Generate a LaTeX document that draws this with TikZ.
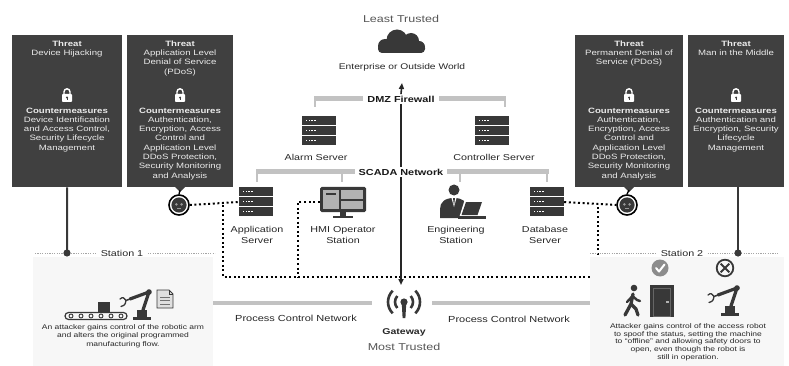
\documentclass[tikz,border=0pt]{standalone}
\usepackage{fontspec}
\setmainfont{Liberation Sans}[FakeStretch=1.25]
\usetikzlibrary{arrows.meta}

\definecolor{boxgray}{HTML}{404040}
\definecolor{icongray}{HTML}{383838}
\definecolor{bargray}{HTML}{C2C2C2}
\definecolor{softtxt}{HTML}{555555}
\definecolor{paneltone}{HTML}{F7F7F7}
\newcommand\setfs[2]{\fontsize{#1}{#2}\selectfont}

\tikzset{
  threatbox/.style={fill=boxgray, draw=none},
  boxtext/.style={text=white!92!black, font=\setfs{7.7}{9.3}, align=center, inner sep=0pt, anchor=north},
  lbl/.style={font=\setfs{8.6}{10.2}, align=center, text=black!85, inner sep=0pt},
  desc/.style={font=\setfs{6.8}{#1}, align=center, text=black!85, inner sep=0pt},
  desc/.default={8.4},
  trusttxt/.style={font=\setfs{10}{12}, text=softtxt, inner sep=0pt},
  netbar/.style={line width=5pt, draw=bargray},
  pcnbar/.style={line width=4.5pt, draw=bargray},
  barlbl/.style={font=\bfseries\setfs{8.7}{10}, fill=white, text=black!90, inner xsep=4pt, inner ysep=1.5pt},
  droptick/.style={line width=1.3pt, draw=bargray},
  dotline/.style={line width=2pt, dash pattern=on 2pt off 2.6pt, draw=black},
  trunk/.style={line width=1.6pt, draw=black!85},
  stationline/.style={line width=0.6pt, draw=black!35, dash pattern=on 1.2pt off 1.2pt},
  stationlbl/.style={font=\setfs{8.6}{10}, fill=white, text=black!85, inner xsep=4pt, inner ysep=1pt},
  hotspot/.style={draw=none, minimum width=#1, minimum height=30pt, inner sep=0pt},
  botring/.style={circle, draw=black, line width=1.6pt, minimum size=20pt, inner sep=0pt},
  % rack server
  server/.pic={
    \foreach \r in {-15,-5,5} {
      \fill[icongray] (-17,\r) rectangle (17,\r+9.3);
      \foreach \d in {-13,-10.3,-7.6,-4.9} \fill[white] (\d,\r+4) rectangle (\d+1.4,\r+5.4);
    }
  },
  % operator monitor
  monitor/.pic={
    \fill[icongray, rounded corners=1.5] (-23,-15) rectangle (23,10);
    \fill[black!30] (-20,-12) rectangle (20,7);
    \fill[icongray] (-4.5,-12) rectangle (-2.5,7);
    \fill[icongray] (-2.5,-3.5) rectangle (20,-1.5);
    \fill[icongray] (-17,-9) rectangle (-7,-7.5);
    \fill[icongray] (-3,10) rectangle (3,14);
    \fill[icongray] (-10,14) rectangle (10,16);
  },
  % engineer at a laptop
  engineer/.pic={
    \fill[icongray] (-6,-12) circle (5.5);
    \fill[icongray] (-20,16) -- (-20,7) .. controls (-20,0) and (-15,-4) .. (-6,-4)
      .. controls (3,-4) and (7,0) .. (7,6) -- (7,16) -- cycle;
    \fill[white] (-8.5,-4) -- (-3.5,-4) -- (-6,5) -- cycle;
    \fill[icongray] (-7,-4) -- (-5,-4) -- (-6,4) -- cycle;
    \fill[white] (-0.5,14.5) -- (4.5,-1.5) -- (24,-1.5) -- (19,14.5) -- cycle;
    \fill[icongray] (1.5,13) -- (6,0) -- (22,0) -- (17.5,13) -- cycle;
    \fill[icongray] (-2,14) rectangle (26,16.5);
  },
  % robot badge
  botface/.pic={
    \fill[icongray] (0,0) circle (7.6);
    \fill[black!40] (-2.6,-0.6) circle (1.4) (2.6,-0.6) circle (1.4);
    \fill[black!40] (-2,3) rectangle (2,3.8);
  },
  % padlock
  lock/.pic={
    \fill[white, rounded corners=0.8] (-5,-1) rectangle (5,7);
    \draw[white, line width=1.4] (-3,-0.5) -- (-3,-3.2) arc[start angle=180, end angle=360, radius=3] -- (3,-0.5);
    \fill[boxgray] (0,2.6) circle (1.1);
    \fill[boxgray] (-0.5,2.6) rectangle (0.5,5);
  },
  cloud/.pic={
    \fill[icongray] (-17,4) circle (7) (-5,-2) circle (10.5) (9,-1) circle (8) (17,5) circle (6);
    \fill[icongray, rounded corners=4] (-24,2) rectangle (23,11);
  },
  gateway/.pic={
    \fill[icongray] (0,-3) circle (3.6);
    \fill[icongray] (-2.2,-1) -- (2.2,-1) -- (1.4,13) -- (-1.4,13) -- cycle;
    \draw[icongray, line width=2.6] (0,-3) ++(-42:9) arc[start angle=-42, end angle=42, radius=9];
    \draw[icongray, line width=2.6] (0,-3) ++(138:9) arc[start angle=138, end angle=222, radius=9];
    \draw[icongray, line width=2.6] (0,-3) ++(-45:16) arc[start angle=-45, end angle=45, radius=16];
    \draw[icongray, line width=2.6] (0,-3) ++(135:16) arc[start angle=135, end angle=225, radius=16];
  },
  % industrial robot arm, origin at bottom centre of its base
  robotarm/.pic={
    \fill[icongray] (-9,0) rectangle (9,-3);
    \fill[icongray] (-5,-3) rectangle (5,-10);
    \draw[icongray, line width=3.2, line cap=round, line join=round] (1,-10) -- (7,-28) -- (-12,-21);
    \fill[icongray] (7,-28) circle (2.8);
    \draw[icongray, line width=1.5, line cap=round] (-12,-21) -- (-16,-19.5);
    \draw[icongray, line width=1.3, line cap=round] (-16,-19.5) .. controls (-19,-23) .. (-22,-21);
    \draw[icongray, line width=1.3, line cap=round] (-16,-19.5) .. controls (-17,-15) .. (-21,-13.5);
  },
  conveyor/.pic={
    \draw[icongray, line width=1.2, rounded corners=3.5] (-31,-3.5) rectangle (31,3.5);
    \foreach \x in {-25,-15,...,25} \draw[icongray, line width=0.9] (\x,0) circle (2);
    \fill[icongray] (2,-14) rectangle (14,-4.5);
  },
  document/.pic={
    \draw[icongray, line width=0.9, fill=black!12] (-8,-9) -- (4,-9) -- (8,-5) -- (8,9) -- (-8,9) -- cycle;
    \draw[icongray, line width=0.9] (4,-9) -- (4,-5) -- (8,-5);
    \foreach \y in {-2,1.5,5} \draw[black!55, line width=0.8] (-5,\y) -- (5,\y);
  },
  walker/.pic={
    \fill[icongray] (2,-13) circle (3.3);
    \draw[icongray, line width=3.3, line cap=round, line join=round] (1,-7) -- (-1,3) -- (-7,14);
    \draw[icongray, line width=3.3, line cap=round, line join=round] (-1,3) -- (4,8) -- (6,14);
    \draw[icongray, line width=2.4, line cap=round, line join=round] (0.5,-5) -- (-5,1);
    \draw[icongray, line width=2.4, line cap=round, line join=round] (0.5,-5) -- (5,-1) -- (8,0);
  },
  door/.pic={
    \fill[icongray] (-12,-16) rectangle (12,16);
    \fill[black!60] (-9,-13) rectangle (9,16);
    \fill[icongray] (-8,-12) rectangle (8,15);
    \fill[black!30] (4,0) rectangle (6.5,2);
  },
  okmark/.pic={
    \fill[black!45] (0,0) circle (8.5);
    \draw[white, line width=2, line cap=round, line join=round] (-4,0) -- (-1,3.5) -- (4.5,-3.5);
  },
  nomark/.pic={
    \draw[icongray, line width=1.8] (0,0) circle (8.3);
    \draw[icongray, line width=1.8] (-4.3,-4.3) -- (4.3,4.3) (-4.3,4.3) -- (4.3,-4.3);
  }
}

\begin{document}
\begin{tikzpicture}[x=1pt, y=-1pt]
\useasboundingbox (0,0) rectangle (789,366);

% ---------- station panel (left) ----------
\fill[paneltone] (33,257) rectangle (213,366);

% ---------- threat boxes ----------
\node[threatbox, minimum width=110pt, minimum height=152pt, anchor=north west] (tb1) at (12,35) {};
\node[threatbox, minimum width=106pt, minimum height=152pt, anchor=north west] (tb2) at (127,35) {};
\node[threatbox, minimum width=108pt, minimum height=152pt, anchor=north west] (tb3) at (575,35) {};
\node[threatbox, minimum width=96pt, minimum height=152pt, anchor=north west] (tb4) at (688,35) {};

\node[boxtext] (t1) at (67,40.5) {\textbf{Threat}\\Device Hijacking};
\node[boxtext] (t2) at (180,40.5) {\textbf{Threat}\\Application Level\\Denial of Service\\(PDoS)};
\node[boxtext] (t3) at (629,40.5) {\textbf{Threat}\\Permanent Denial of\\Service (PDoS)};
\node[boxtext] (t4) at (736,40.5) {\textbf{Threat}\\Man in the Middle};

\pic at (67,95) {lock};
\pic at (180,95) {lock};
\pic at (629,95) {lock};
\pic at (736,95) {lock};

\node[boxtext] (c1) at (67,107.5) {\textbf{Countermeasures}\\Device Identification\\and Access Control,\\Security Lifecycle\\Management};
\node[boxtext] (c2) at (180,107.5) {\textbf{Countermeasures}\\Authentication,\\Encryption, Access\\Control and\\Application Level\\DDoS Protection,\\Security Monitoring\\and Analysis};
\node[boxtext] (c3) at (629,107.5) {\textbf{Countermeasures}\\Authentication,\\Encryption, Access\\Control and\\Application Level\\DDoS Protection,\\Security Monitoring\\and Analysis};
\node[boxtext] (c4) at (736,107.5) {\textbf{Countermeasures}\\Authentication and\\Encryption, Security\\Lifecycle\\Management};

% ---------- top: outside world and DMZ ----------
\node[trusttxt] (least) at (401,19) {Least Trusted};
\pic at (402,42) {cloud};
\node[lbl, font=\setfs{8.2}{10}] (ent) at (402,67) {Enterprise or Outside World};

\draw[netbar] (314,99) -- (506,99);
\draw[droptick] (315,99) -- (315,107);
\draw[droptick] (505,99) -- (505,107);

% SCADA network bar with drops to the hosts
\draw[netbar] (256,172) -- (549,172);
\draw[droptick] (257,172) -- (257,182);
\draw[droptick] (342,172) -- (342,182);
\draw[droptick] (460,172) -- (460,182);
\draw[droptick] (547,172) -- (547,182);

% process control network bars
\draw[pcnbar] (213,303) -- (372,303);
\draw[pcnbar] (432,303) -- (592,303);

% ---------- hosts ----------
\node[hotspot=34pt] (alarm) at (319,131) {};
\pic at (alarm) {server};
\node[lbl] (alarmlbl) at (316,157) {Alarm Server};

\node[hotspot=34pt] (ctrl) at (492,131) {};
\pic at (ctrl) {server};
\node[lbl] (ctrllbl) at (494,157) {Controller Server};

\node[hotspot=34pt] (appsrv) at (256,202) {};
\pic at (appsrv) {server};
\node[lbl] (applbl) at (257,235) {Application\\Server};

\node[hotspot=46pt] (hmi) at (343,202) {};
\pic at (hmi) {monitor};
\node[lbl] (hmilbl) at (343,235) {HMI Operator\\Station};

\node[hotspot=46pt] (eng) at (460,202) {};
\pic at (eng) {engineer};
\node[lbl] (englbl) at (456,235) {Engineering\\Station};

\node[hotspot=34pt] (dbsrv) at (547,202) {};
\pic at (dbsrv) {server};
\node[lbl] (dblbl) at (545,235) {Database\\Server};

% ---------- compromised-device badges ----------
\node[botring] (botL) at (179,205) {};
\pic at (botL) {botface};
\node[botring] (botR) at (627,205) {};
\pic at (botR) {botface};

\fill[boxgray] (174,186) -- (186,186) -- (180,192) -- cycle;
\draw[black, line width=1.3pt] (180,190) -- (botL.north);
\fill[boxgray] (623,186) -- (635,186) -- (629,192) -- cycle;
\draw[black, line width=1.3pt] (629,190) -- (botR.north);

% ---------- attack paths (dotted) ----------
\coordinate (jL) at (223,205);
\coordinate (jH) at (298,202);
\coordinate (jR) at (598,205);
\coordinate (busL) at (223,277);
\coordinate (busH) at (298,277);
\coordinate (busR) at (598,277);
\draw[dotline] (botL.east) -- (appsrv.west);
\draw[dotline] (jL) -- (busL) -- (busR) -- (jR);
\draw[dotline] (hmi.west) -- (jH) -- (busH);
\draw[dotline] (dbsrv.east) -- (botR.west);

% ---------- stations ----------
\fill[paneltone] (590,257) rectangle (784,366);
\coordinate (s1a) at (35,253);
\coordinate (s1b) at (215,253);
\coordinate (s2a) at (590,253);
\coordinate (s2b) at (778,253);
\draw[stationline] (s1a) -- (s1b);
\draw[stationline] (s2a) -- (s2b);
\node[stationlbl] (st1) at (122,253) {Station 1};
\node[stationlbl] (st2) at (682,253) {Station 2};

\coordinate (pin1) at (67,253);
\coordinate (pin4) at (738,253);
\draw[icongray, line width=2pt] (tb1.south) -- (pin1);
\draw[icongray, line width=2pt] (738,187) -- (pin4);
\fill[icongray] (pin1) circle (3.6);
\fill[icongray] (pin4) circle (3.6);

\pic at (96,316) {conveyor};
\pic at (142,320) {robotarm};
\pic at (165,299) {document};
\node[desc] (d1) at (123,336) {An attacker gains control of the robotic arm\\and alters the original programmed\\manufacturing flow.};

\pic at (660,268) {okmark};
\pic at (725,268) {nomark};
\pic at (632,301) {walker};
\pic at (662,301) {door};
\pic at (730,316) {robotarm};
\node[desc=7.7] (d2) at (688,342) {Attacker gains control of the access robot\\to spoof the status, setting the machine\\to ``offline'' and allowing safety doors to\\open, even though the robot is\\still in operation.};

% ---------- trunk through the zones ----------
\node[barlbl] (dmz) at (401,99) {DMZ Firewall};
\coordinate (upend) at (402,83);
\draw[trunk, -{Triangle[length=6pt, width=5pt]}] (dmz.north) -- (upend);
\coordinate (downend) at (401,285);
\draw[trunk, -{Triangle[length=6pt, width=5pt]}] (dmz.south) -- (downend);
\node[barlbl] (scada) at (401,172) {SCADA Network};

% ---------- gateway ----------
\pic at (404,305) {gateway};
\node[lbl, font=\setfs{8.8}{10}] (pcnL) at (296,318) {Process Control Network};
\node[lbl, font=\setfs{8.8}{10}] (pcnR) at (509,319) {Process Control Network};
\node[lbl, font=\bfseries\setfs{8.4}{10}] (gw) at (404,332) {Gateway};
\node[trusttxt] (most) at (404,347) {Most Trusted};
\end{tikzpicture}
\end{document}
